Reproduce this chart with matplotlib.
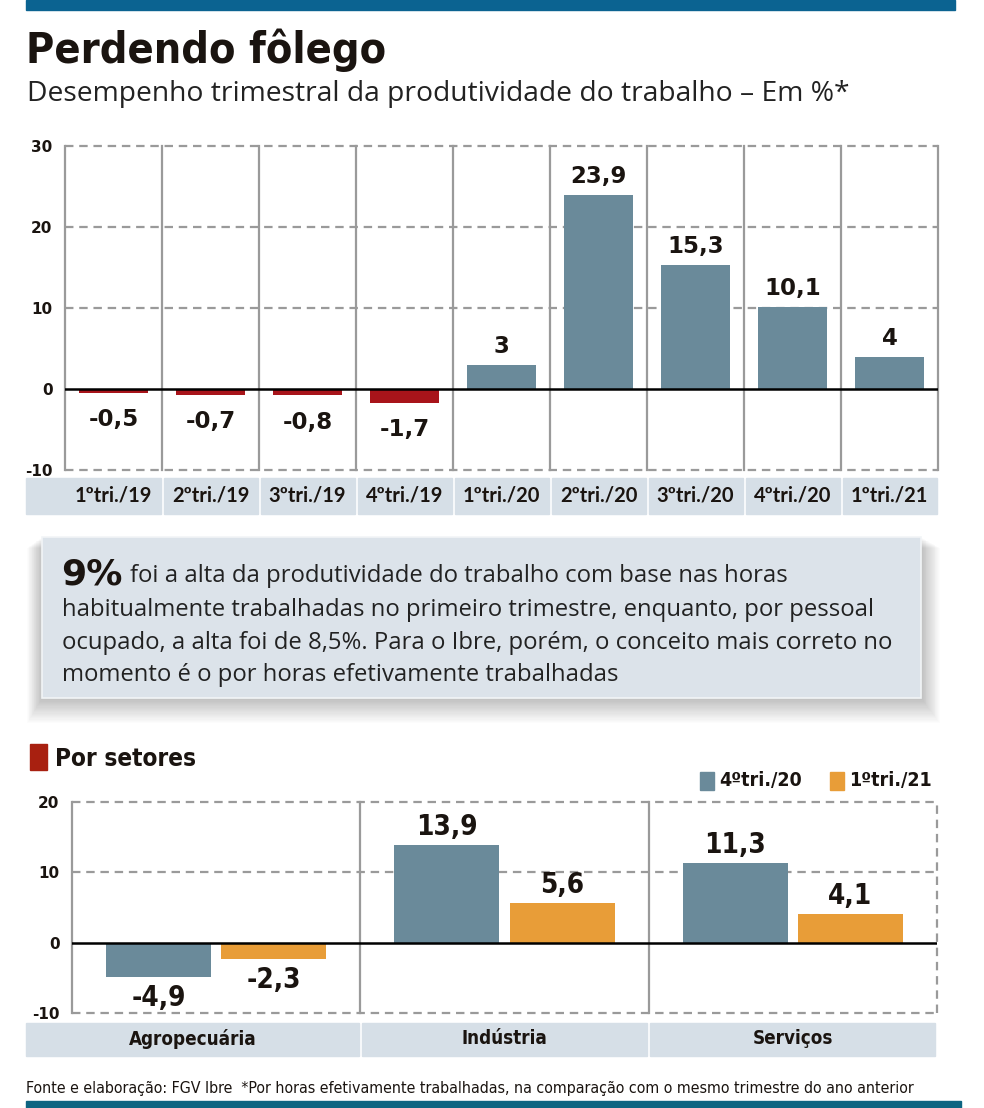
import matplotlib.pyplot as plt
from matplotlib.patches import Rectangle

plt.rcParams["axes.unicode_minus"] = False

# dados
trimestres = ["1ºtri./19", "2ºtri./19", "3ºtri./19", "4ºtri./19", "1ºtri./20",
              "2ºtri./20", "3ºtri./20", "4ºtri./20", "1ºtri./21"]
produtividade = [-0.5, -0.7, -0.8, -1.7, 3, 23.9, 15.3, 10.1, 4]

setores = ["Agropecuária", "Indústria", "Serviços"]
series = ["4ºtri./20", "1ºtri./21"]
tri4_20 = [-4.9, 13.9, 11.3]
tri1_21 = [-2.3, 5.6, 4.1]

W, H = 984, 1108
GRAY = "#6a8a9a"
RED = "#a8141a"
ORANGE = "#e89d38"
BAND = "#d6dfe7"
GRID = "#9a9a9a"
BLUE = "#0b6391"
INK = "#1a1410"
LATO = ["Lato", "DejaVu Sans"]
DJ = "DejaVu Sans"
COND = dict(family="DejaVu Sans", fontstretch="condensed")


def fr(x, y):
    return x / W, 1 - y / H


def fmt(v):
    s = ("%.1f" % v).replace(".", ",")
    return s[:-2] if s.endswith(",0") else s


fig = plt.figure(figsize=(W / 100, H / 100), dpi=100)

# faixas azuis
fig.patches.append(Rectangle(fr(26, 10), 929 / W, 10 / H, transform=fig.transFigure,
                             color=BLUE, zorder=0))
fig.patches.append(Rectangle(fr(26, 1108), 935 / W, 7 / H, transform=fig.transFigure,
                             color="#0d6481", zorder=0))

fig.text(*fr(26, 63), "Perdendo fôlego", fontsize=31, fontweight="heavy",
         color=INK, va="baseline", **COND)
fig.text(*fr(27, 101), "Desempenho trimestral da produtividade do trabalho – Em %*",
         fontsize=20.3, family="Open Sans", color="#222222", va="baseline")

# grafico de cima
ax1 = fig.add_axes([65 / W, 1 - 470 / H, 873 / W, 324 / H])
x = list(range(len(trimestres)))
cores = [RED if v < 0 else GRAY for v in produtividade]
ax1.bar(x, produtividade, width=0.72, color=cores, zorder=3)
ax1.set_xlim(-0.5, len(trimestres) - 0.5)
ax1.set_ylim(-10, 30)
for v in [-10, 10, 20, 30]:
    ax1.axhline(v, color=GRID, lw=1.6, ls=(0, (3.8, 2.6)), zorder=1, clip_on=False)
for i in range(len(trimestres) + 1):
    ax1.axvline(i - 0.5, color=GRID, lw=1.6, zorder=2, clip_on=False)
ax1.axhline(0, color="black", lw=1.8, zorder=4)
for xi, v in zip(x, produtividade):
    if v >= 0:
        ax1.annotate(fmt(v), (xi, v), xytext=(0, 5), textcoords="offset points",
                     ha="center", va="bottom", fontsize=16.5, fontweight="bold",
                     family=DJ, color=INK)
    else:
        ax1.annotate(fmt(v), (xi, v), xytext=(0, -11), textcoords="offset points",
                     ha="center", va="top", fontsize=16.5, fontweight="bold",
                     family=DJ, color=INK)
ax1.set_xticks([])
ax1.set_yticks([-10, 0, 10, 20, 30])
ax1.tick_params(axis="y", length=0, pad=9)
for t in ax1.get_yticklabels():
    t.set_fontweight("bold")
    t.set_fontsize(11)
    t.set_family(DJ)
    t.set_color(INK)
for s in ax1.spines.values():
    s.set_visible(False)

dpx = len(trimestres) / 873
tr1 = ax1.get_xaxis_transform()
for i, lab in enumerate(trimestres):
    x0 = i - 0.5 + 1.5 * dpx
    x1 = i + 0.5 - 1.5 * dpx
    if i == 0:
        x0 = -0.5 - 39 * dpx
    ax1.add_patch(Rectangle((x0, -44 / 324), x1 - x0, 36 / 324, transform=tr1,
                            color=BAND, clip_on=False, zorder=0))
    ax1.text(i, -26 / 324, lab, transform=tr1, ha="center", va="center",
             fontsize=14.5, fontweight="bold", family=LATO, color=INK)

# caixa de texto com sombra
for k in range(1, 22):
    fig.patches.append(Rectangle(fr(42 - k * 0.7, 698 + k * 1.2), (879 + 1.6 * k) / W,
                                 (161 + k * 0.7) / H, transform=fig.transFigure,
                                 color="black", alpha=0.012, lw=0, zorder=0))
fig.patches.append(Rectangle(fr(42, 698), 879 / W, 161 / H, transform=fig.transFigure,
                             facecolor="#dce3ea", edgecolor="#f2f5f7", lw=1.2, zorder=1))
fig.text(*fr(61, 584), "9%", fontsize=26, fontweight="bold", family=DJ,
         color=INK, va="baseline")
linhas = ["foi a alta da produtividade do trabalho com base nas horas",
          "habitualmente trabalhadas no primeiro trimestre, enquanto, por pessoal",
          "ocupado, a alta foi de 8,5%. Para o Ibre, porém, o conceito mais correto no",
          "momento é o por horas efetivamente trabalhadas"]
ys = [582, 616, 649, 681]
xs = [130, 62, 62, 62]
for lx, ly, ln in zip(xs, ys, linhas):
    fig.text(*fr(lx, ly), ln, fontsize=17.2, family="Open Sans", color="#222222",
             va="baseline")

# por setores
fig.patches.append(Rectangle(fr(30, 770), 17 / W, 26 / H, transform=fig.transFigure,
                             color="#a82010"))
fig.text(*fr(55, 766), "Por setores", fontsize=17.5, fontweight="bold",
         color=INK, va="baseline", **COND)

leg_x = [700, 830]
for lx, lab, c in zip(leg_x, series, [GRAY, ORANGE]):
    fig.patches.append(Rectangle(fr(lx, 790), 14 / W, 18 / H, transform=fig.transFigure,
                                 color=c))
    fig.text(*fr(lx + 19, 781), lab, fontsize=14, fontweight="bold",
             color=INK, va="center", **COND)

ax2 = fig.add_axes([72 / W, 1 - 1013 / H, 865 / W, 211 / H])
xs2 = list(range(len(setores)))
ax2.bar([v - 0.2 for v in xs2], tri4_20, width=0.365, color=GRAY, zorder=3)
ax2.bar([v + 0.2 for v in xs2], tri1_21, width=0.365, color=ORANGE, zorder=3)
ax2.set_xlim(-0.5, len(setores) - 0.5)
ax2.set_ylim(-10, 20)
for v in [-10, 10, 20]:
    ax2.axhline(v, color=GRID, lw=1.6, ls=(0, (3.8, 2.6)), zorder=1, clip_on=False)
for i in range(len(setores)):
    ax2.axvline(i - 0.5, color=GRID, lw=1.6, zorder=2, clip_on=False)
ax2.axvline(len(setores) - 0.5, color=GRID, lw=1.6, ls=(0, (3.8, 2.6)), zorder=2,
            clip_on=False)
ax2.axhline(0, color="black", lw=1.8, zorder=4)
for off, vals in [(-0.2, tri4_20), (0.2, tri1_21)]:
    for xi, v in zip(xs2, vals):
        if v >= 0:
            ax2.annotate(fmt(v), (xi + off, v), xytext=(0, 3), textcoords="offset points",
                         ha="center", va="bottom", fontsize=20, fontweight="bold",
                         color=INK, **COND)
        else:
            ax2.annotate(fmt(v), (xi + off, v), xytext=(0, -5), textcoords="offset points",
                         ha="center", va="top", fontsize=20, fontweight="bold",
                         color=INK, **COND)
ax2.set_xticks([])
ax2.set_yticks([-10, 0, 10, 20])
ax2.tick_params(axis="y", length=0, pad=9)
for t in ax2.get_yticklabels():
    t.set_fontweight("bold")
    t.set_fontsize(11)
    t.set_family(DJ)
    t.set_color(INK)
for s in ax2.spines.values():
    s.set_visible(False)

dpx2 = len(setores) / 865
tr2 = ax2.get_xaxis_transform()
for i, lab in enumerate(setores):
    x0 = i - 0.5 + 1.5 * dpx2
    x1 = i + 0.5 - 1.5 * dpx2
    if i == 0:
        x0 = -0.5 - 46 * dpx2
    ax2.add_patch(Rectangle((x0, -43 / 211), x1 - x0, 33 / 211, transform=tr2,
                            color=BAND, clip_on=False, zorder=0))
    ax2.text((x0 + x1) / 2, -26 / 211, lab, transform=tr2, ha="center", va="center",
             fontsize=13.5, fontweight="bold", color=INK, **COND)

fig.text(*fr(26, 1089),
         "Fonte e elaboração: FGV Ibre  *Por horas efetivamente trabalhadas, "
         "na comparação com o mesmo trimestre do ano anterior",
         fontsize=11.45, color=INK, va="center", **COND)

fig.savefig("out.png", dpi=100)
